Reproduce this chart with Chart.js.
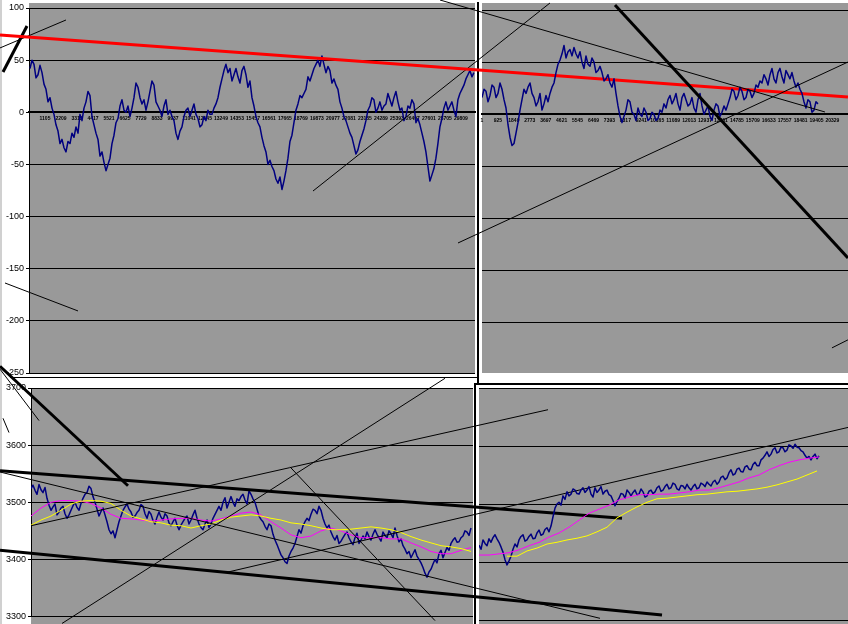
<!DOCTYPE html>
<html>
<head>
<meta charset="utf-8">
<title>Oscillator and price</title>
<script src="https://cdn.jsdelivr.net/npm/chart.js@4.4.1/dist/chart.umd.min.js"></script>
<style>
  body { margin: 0; background: #fff; }
  #page { position: relative; width: 848px; height: 624px; overflow: hidden; background: #fff; }
  #page canvas { position: absolute; left: 0; top: 0; }
  .plot { position: absolute; background: #999999; }
  .rule { position: absolute; background: #000; }
</style>
</head>
<body>
<div id="page">
  <!-- plot backgrounds and chart frames, the charts themselves are transparent on top -->
  <div class="rule" style="left:0;top:0;width:2px;height:624px;background:#d0d0d0"></div>
  <div class="plot" style="left:29px;top:3px;width:446px;height:370px"></div>
  <div class="plot" style="left:482px;top:3px;width:366px;height:370px"></div>
  <div class="plot" style="left:31px;top:388px;width:442px;height:236px"></div>
  <div class="plot" style="left:479px;top:388px;width:369px;height:236px"></div>
  <div class="rule" style="left:10px;top:377px;width:469px;height:1px"></div>
  <div class="rule" style="left:477px;top:2px;width:2px;height:382px"></div>
  <div class="rule" style="left:474px;top:383px;width:374px;height:2px"></div>
  <div class="rule" style="left:474px;top:383px;width:2px;height:241px"></div>
  <canvas id="tl" width="848" height="624"></canvas>
  <canvas id="tr" width="848" height="624"></canvas>
  <canvas id="bl" width="848" height="624"></canvas>
  <canvas id="br" width="848" height="624"></canvas>
</div>
<script>
// ---- data ----

// top panels: oscillator, x = sample number
var tlTicks = [1105, 2209, 3313, 4417, 5521, 6625, 7729, 8833, 9937, 11041, 12145, 13249, 14353, 15457,
  16561, 17665, 18769, 19873, 20977, 22081, 23185, 24289, 25393, 26497, 27601, 28705, 29809];
var trTicks = [1, 925, 1849, 2773, 3697, 4621, 5545, 6469, 7393, 8317, 9241, 10165, 11089, 12013,
  12937, 13861, 14785, 15709, 16633, 17557, 18481, 19405, 20329];

var tlStart = 70, tlStep = 138;
var tlOsc = [42, 50, 46, 33, 36, 45, 38, 27, 22, 10, 14, 4, -2, -12, -18, -30, -26, -34, -38, -28,
  -30, -20, -24, -14, -20, -2, -8, 4, 10, 20, 16, -4, -12, -20, -26, -42, -38, -48, -56, -50,
  -44, -30, -22, -10, -6, 6, 12, 2, 0, 6, -4, 4, 14, 28, 24, 14, 8, 12, 2, 10,
  20, 30, 26, 10, 6, 2, -4, 6, 12, -2, 2, -4, -8, -20, -26, -18, -14, -4, 2, 4,
  -4, 2, 8, -2, -6, -14, -12, -4, -8, 2, -2, -2, 4, 8, 14, 24, 32, 40, 46, 38,
  42, 30, 36, 42, 34, 28, 40, 44, 36, 24, 30, 14, 6, -4, -10, -14, -24, -32, -38, -50,
  -46, -52, -56, -64, -68, -62, -74, -66, -56, -44, -28, -22, -10, 2, 8, 16, 14, 18, 22, 34,
  30, 36, 42, 46, 50, 44, 54, 46, 38, 44, 40, 28, 32, 26, 22, 10, 4, -4, -8, -14,
  -20, -24, -32, -40, -36, -28, -22, -16, -8, 2, 6, 14, 12, 0, 4, 10, 2, 6, 8, 18,
  12, 6, 14, 20, 10, 2, 4, -8, -4, 6, 4, 12, 8, -10, -6, -12, -20, -28, -38, -52,
  -66, -60, -54, -44, -30, -14, -6, 4, 10, 2, 6, 10, 2, -4, 12, 18, 22, 26, 32, 36,
  40, 34, 38];

var trStart = 1, trStep = 116;
var trOsc = [16, 24, 22, 12, 18, 28, 26, 16, 20, 30, 24, 14, 6, -10, -22, -30, -28, -18, -8, 4,
  14, 24, 20, 26, 30, 20, 16, 8, 12, 20, 4, 10, 18, 12, 20, 26, 30, 40, 48, 52,
  58, 66, 54, 60, 62, 56, 64, 58, 54, 60, 50, 44, 56, 48, 46, 54, 50, 40, 42, 46,
  40, 32, 34, 38, 30, 26, 34, 20, 8, -2, -8, -2, 4, 14, 12, 2, 0, -6, 6, 0,
  -2, 6, 2, -6, -4, 2, 0, -6, -4, 4, 2, 10, 6, 14, 18, 10, 14, 20, 10, 4,
  16, 20, 14, 8, 10, 16, 6, 2, 14, 20, 8, 0, 4, 8, -2, -6, 4, 10, 8, -2,
  2, 8, 4, 10, 16, 24, 22, 14, 18, 26, 22, 14, 16, 24, 22, 16, 20, 28, 26, 32,
  30, 38, 34, 28, 38, 44, 34, 30, 40, 44, 36, 30, 42, 38, 34, 40, 32, 26, 30, 24,
  20, 12, 6, 14, 12, 2, 4, 12, 10];

// trend lines drawn on the top panels, [x, value] end points
var tlRedTrend = [[-2000, 74.1], [56521, 14.7]];
var tlThinTrends = [
  [[-2000, 61.7], [2554, 88.5]],
  [[-1655, -163.7], [3382, -190.5]],
  [[19600, -75.5], [35955, 104.8]]
];
var tlThickTrends = [
  [[-1793, 38.6], [-137, 82.7]]
];
var trThinTrends = [
  [[-2435, 109.6], [19895, 2.2]],
  [[-1391, -123.4], [21229, 50.1]],
  [[20301, -224], [21229, -216.3]]
];
var trThickTrends = [
  [[7715, 104.8], [21229, -137.8]]
];

// bottom panels: price with two moving averages, x = bar number
var priceStep = 0.5;
var blPrice = [3524, 3530, 3521, 3514, 3531, 3522, 3517, 3526, 3507, 3495, 3486, 3492, 3497, 3478, 3483, 3490, 3493, 3480, 3472, 3478,
  3486, 3494, 3500, 3491, 3486, 3498, 3507, 3514, 3517, 3528, 3524, 3510, 3500, 3488, 3476, 3484, 3490, 3478, 3466, 3452,
  3445, 3450, 3438, 3452, 3466, 3476, 3486, 3492, 3497, 3488, 3483, 3474, 3476, 3482, 3486, 3496, 3493, 3480, 3472, 3484,
  3479, 3468, 3462, 3474, 3483, 3474, 3469, 3480, 3476, 3464, 3459, 3466, 3472, 3460, 3452, 3460, 3466, 3472, 3476, 3462,
  3469, 3478, 3486, 3472, 3462, 3456, 3452, 3462, 3469, 3456, 3462, 3472, 3479, 3486, 3493, 3486, 3500, 3508, 3490, 3500,
  3510, 3500, 3493, 3506, 3503, 3510, 3514, 3504, 3497, 3520, 3514, 3506, 3500, 3488, 3476, 3470, 3466, 3458, 3452, 3462,
  3459, 3444, 3434, 3426, 3417, 3408, 3403, 3396, 3393, 3406, 3414, 3420, 3428, 3440, 3452, 3446, 3459, 3466, 3472, 3468,
  3479, 3488, 3486, 3480, 3493, 3486, 3472, 3462, 3455, 3460, 3448, 3440, 3434, 3442, 3428, 3432, 3438, 3444, 3448, 3438,
  3431, 3426, 3438, 3446, 3428, 3434, 3441, 3436, 3448, 3440, 3434, 3444, 3452, 3444, 3438, 3432, 3448, 3442, 3438, 3450,
  3445, 3438, 3455, 3442, 3431, 3436, 3424, 3418, 3410, 3414, 3403, 3410, 3417, 3406, 3400, 3394, 3386, 3376, 3369, 3378,
  3383, 3392, 3400, 3394, 3410, 3416, 3403, 3412, 3421, 3416, 3428, 3434, 3438, 3430, 3431, 3438, 3441, 3450, 3448, 3442,
  3455];
var blMaFast = [3476, 3490, 3500, 3503, 3503, 3502, 3498, 3490, 3479, 3472,
  3471, 3469, 3467, 3469, 3471, 3472, 3472, 3469, 3467, 3471,
  3476, 3481, 3483, 3478, 3466, 3455, 3443, 3438, 3441, 3450,
  3455, 3450, 3443, 3438, 3438, 3438, 3436, 3436, 3429, 3422,
  3414, 3410, 3410, 3416, 3421];
var blMaSlow = [3460, 3469, 3476, 3486, 3497, 3502, 3503, 3502, 3498, 3486,
  3476, 3471, 3466, 3464, 3460, 3459, 3455, 3459, 3462, 3469,
  3474, 3476, 3478, 3476, 3472, 3469, 3464, 3462, 3459, 3455,
  3452, 3452, 3453, 3455, 3457, 3455, 3452, 3447, 3440, 3434,
  3429, 3424, 3422, 3419, 3414];

var brPrice = [3429, 3422, 3438, 3432, 3428, 3440, 3434, 3442, 3447, 3440, 3434, 3426, 3417, 3404, 3395, 3402, 3410, 3422, 3431, 3426,
  3438, 3444, 3447, 3436, 3438, 3444, 3448, 3440, 3441, 3450, 3455, 3446, 3448, 3456, 3459, 3452, 3462, 3478, 3493, 3500,
  3503, 3498, 3514, 3508, 3521, 3514, 3517, 3526, 3524, 3518, 3517, 3524, 3528, 3520, 3524, 3530, 3517, 3512, 3528, 3520,
  3524, 3530, 3517, 3522, 3524, 3516, 3514, 3506, 3497, 3504, 3510, 3518, 3517, 3510, 3524, 3520, 3514, 3520, 3524, 3516,
  3517, 3526, 3521, 3512, 3514, 3522, 3524, 3518, 3521, 3528, 3531, 3522, 3524, 3530, 3534, 3526, 3528, 3536, 3534, 3526,
  3524, 3532, 3531, 3526, 3534, 3528, 3524, 3530, 3534, 3526, 3528, 3536, 3534, 3530, 3538, 3534, 3531, 3538, 3541, 3534,
  3538, 3546, 3548, 3542, 3545, 3554, 3559, 3550, 3552, 3560, 3562, 3556, 3555, 3564, 3566, 3560, 3559, 3568, 3572, 3566,
  3566, 3576, 3579, 3584, 3590, 3582, 3586, 3594, 3597, 3588, 3590, 3598, 3597, 3590, 3593, 3602, 3600, 3596, 3603, 3598,
  3597, 3592, 3590, 3584, 3579, 3582, 3576, 3582, 3586, 3578, 3583];
var brMaFast = [3412, 3412, 3414, 3416, 3421, 3428, 3434, 3443, 3450, 3460,
  3472, 3484, 3491, 3498, 3507, 3512, 3516, 3516, 3517, 3517,
  3519, 3521, 3524, 3524, 3528, 3533, 3538, 3545, 3550, 3559,
  3566, 3572, 3576, 3579, 3581];
var brMaSlowStart = 7;
var brMaSlow = [3410, 3410, 3419, 3424, 3431, 3434, 3438, 3441, 3445, 3452,
  3460, 3476, 3486, 3495, 3503, 3509, 3510, 3512, 3514, 3516,
  3517, 3519, 3521, 3522, 3524, 3526, 3529, 3533, 3538, 3543,
  3550, 3557];

// trend lines for the price panels, in bottom-left bar units
var botThickTrends = [
  [[-7.75, 3738], [24.25, 3529]],
  [[-7.75, 3555], [147.75, 3472]],
  [[-7.75, 3416], [157.75, 3303]]
];
var botThinTrends = [
  [[-7.75, 3733], [2, 3643]],
  [[-7, 3647], [-5.5, 3622]],
  [[-7.75, 3553], [142.25, 3297]],
  [[7.75, 3288], [103.5, 3717]],
  [[0, 3459], [129.25, 3662]],
  [[49.25, 3378], [204.25, 3631]],
  [[64.75, 3562], [101, 3293]]
];

// ---- drawing ----
var FONT = '"Liberation Sans", Arial, sans-serif';
var NAVY = '#000080';

function pts(values, start, step) {
  return values.map(function(v, i) { return {x: start + i * step, y: v}; });
}

function series(values, start, step, color, width, order) {
  return {data: pts(values, start, step), borderColor: color, borderWidth: width,
    pointRadius: 0, order: order, borderJoinStyle: 'round'};
}

function trend(line, color, width) {
  // points kept in falling x order so chart.js does not drop ends that sit outside the axis range
  return {data: [{x: line[1][0], y: line[1][1]}, {x: line[0][0], y: line[0][1]}],
    borderColor: color, borderWidth: width, pointRadius: 0, clip: false, order: 0};
}

function trendSets(list, color, width) {
  return list.map(function(l) { return trend(l, color, width); });
}

function yAxis(min, max, step, showLabels, width, hideValue) {
  return {
    min: min, max: max,
    ticks: {stepSize: step, display: showLabels, color: '#000', padding: 2,
      font: {family: FONT, size: 9},
      callback: function(v) { return String(v); }},
    grid: {drawTicks: showLabels, tickLength: 3, lineWidth: 1,
      color: function(c) { return c.tick && c.tick.value === hideValue ? 'rgba(0,0,0,0)' : '#000'; }},
    border: {display: showLabels, color: '#000', width: 1},
    afterFit: function(axis) { axis.width = width; }
  };
}

function topX(max, tickList) {
  return {
    type: 'linear', min: 1, max: max, position: {y: 0},
    grid: {display: false, drawTicks: false},
    border: {display: true, color: '#000', width: 2},
    afterBuildTicks: function(axis) {
      axis.ticks = tickList.map(function(v) { return {value: v}; });
    },
    ticks: {autoSkip: false, maxRotation: 0, padding: 3, color: '#000',
      font: {family: FONT, size: 5, weight: 'bold'},
      callback: function(v) { return String(v); }}
  };
}

function bottomX(max) {
  return {type: 'linear', display: false, min: 0, max: max};
}

function panel(id, pad, scales, datasets) {
  return new Chart(document.getElementById(id), {
    type: 'line',
    data: {datasets: datasets},
    options: {
      responsive: false, animation: false, devicePixelRatio: 1, events: [],
      layout: {padding: pad},
      plugins: {legend: {display: false}, tooltip: {enabled: false}},
      elements: {line: {tension: 0}},
      scales: scales
    }
  });
}

panel('tl', {left: 0, top: 8, right: 373, bottom: 251},
  {x: topX(30781, tlTicks), y: yAxis(-250, 100, 50, true, 29)},
  [series(tlOsc, tlStart, tlStep, NAVY, 1.5, 2), trend(tlRedTrend, '#ff0000', 3)]
    .concat(trendSets(tlThinTrends, '#000', 1))
    .concat(trendSets(tlThickTrends, '#000', 3)));

panel('tr', {left: 482, top: 10, right: 0, bottom: 249},
  {x: topX(21231, trTicks), y: yAxis(-250, 100, 50, false, 0, -250)},
  [series(trOsc, trStart, trStep, NAVY, 1.5, 2)]
    .concat(trendSets(trThinTrends, '#000', 1))
    .concat(trendSets(trThickTrends, '#000', 3)));

panel('bl', {left: 0, top: 388, right: 375, bottom: 4},
  {x: bottomX(110.5), y: yAxis(3300, 3700, 100, true, 31)},
  [series(blPrice, 0, priceStep, NAVY, 1.5, 3),
   series(blMaFast, 0, 2.5, '#ff00ff', 1, 2),
   series(blMaSlow, 0, 2.5, '#ffff00', 1, 1)]
    .concat(trendSets(botThinTrends, '#000', 1))
    .concat(trendSets(botThickTrends, '#000', 3)));

panel('br', {left: 479, top: 388, right: 0, bottom: 4},
  {x: bottomX(92.25), y: yAxis(3300, 3700, 100, false, 0)},
  [series(brPrice, 0, priceStep, NAVY, 1.5, 3),
   series(brMaFast, 0, 2.5, '#ff00ff', 1, 2),
   series(brMaSlow, brMaSlowStart, 2.5, '#ffff00', 1, 1)]);
</script>
</body>
</html>
